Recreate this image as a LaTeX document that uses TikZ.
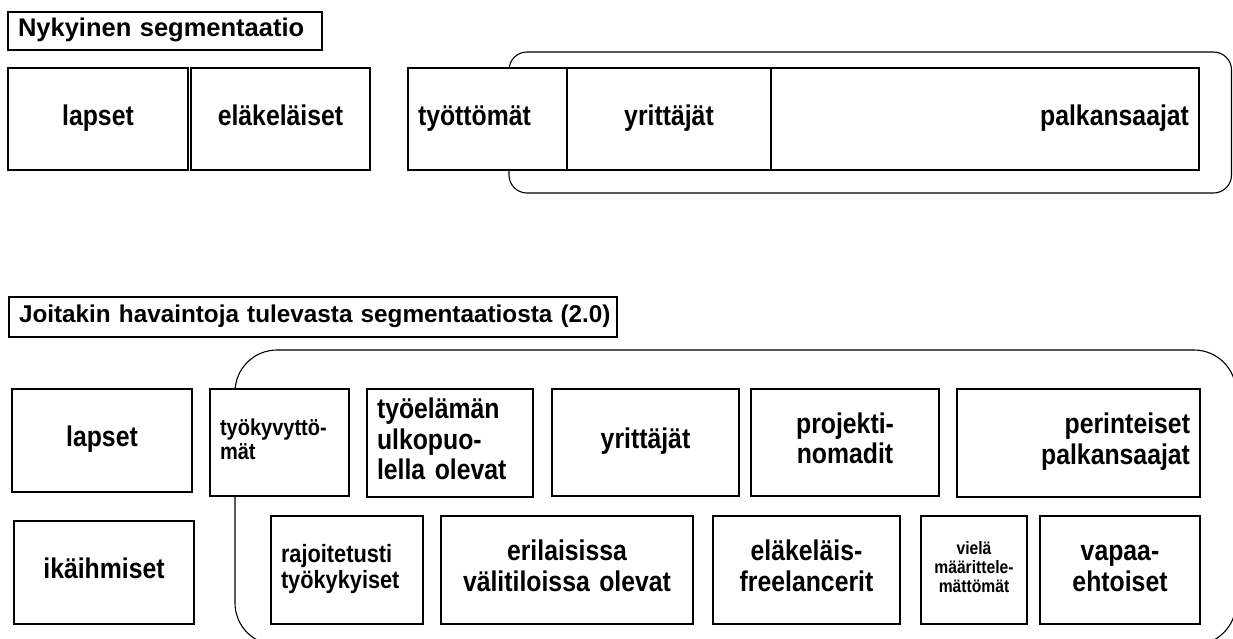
\documentclass[tikz,border=0pt]{standalone}
\usepackage{fontspec}
\setmainfont{Liberation Sans}
\newfontfamily\segfont{Liberation Sans}[FakeStretch=0.87]

\begin{document}
\begin{tikzpicture}[x=1pt,y=-1pt,
    seg/.style={draw, fill=white, line width=1.3pt, inner xsep=10pt, inner ysep=0pt,
      font=\segfont\fontsize{28.5}{30.5}\selectfont\bfseries, align=center,
      execute at begin node=\strut, execute at end node=\strut},
    small/.style={font=\segfont\fontsize{25}{26.5}\selectfont\bfseries},
    smaller/.style={font=\segfont\fontsize{23}{21.5}\selectfont\bfseries},
    tiny/.style={font=\segfont\fontsize{18}{19}\selectfont\bfseries},
    titlebox/.style={seg, align=left, font=\fontsize{#1}{28}\selectfont\bfseries},
    group/.style={draw, line width=1.1pt, rounded corners=#1}]
  \useasboundingbox (0,0) rectangle (1233,638);
  \clip (0,0) rectangle (1233,638);

  % nykyinen segmentaatio
  \node[titlebox=25.5, text width=294pt, minimum height=38pt] (nyk) at (165,31) {Nykyinen segmentaatio};
  \draw[group=18pt] (509,52) rectangle (1231.5,193);
  \node[seg, text width=160pt, minimum height=102pt] (lapset) at (98,119) {lapset};
  \node[seg, text width=159pt, minimum height=102pt] (elakel) at (280.5,119) {eläkeläiset};
  \node[seg, align=left, text width=139pt, minimum height=102pt] (tyott) at (487.5,119) {työttömät};
  \node[seg, text width=184pt, minimum height=102pt] (yritt) at (669,119) {yrittäjät};
  \node[seg, align=right, text width=408pt, minimum height=102pt] (palkan) at (985,119) {palkansaajat};

  % segmentaatio 2.0
  \node[titlebox=24.3, text width=588pt, minimum height=40pt] (tuleva) at (313,317) {\mbox{Joitakin havaintoja tulevasta segmentaatiosta (2.0)}};
  \draw[group=42pt] (235,350) rectangle (1236,645);
  \node[seg, text width=160pt, minimum height=103pt] (lapset2) at (102,440.5) {lapset};
  \node[seg, text width=160pt, minimum height=103pt] (ikaih) at (104,572.5) {ikäihmiset};
  \node[seg, smaller, align=left, text width=119pt, minimum height=107pt] (tyokyv) at (279.5,442.5) {työkyvyttö-\\mät};
  \node[seg, align=left, text width=146pt, minimum height=108pt] (tyoel) at (450,443) {työelämän\\ulkopuo-\\lella olevat};
  \node[seg, text width=167pt, minimum height=107pt] (yritt2) at (645.5,442.5) {yrittäjät};
  \node[seg, text width=168pt, minimum height=107pt] (projekti) at (845,442.5) {projekti-\\nomadit};
  \node[seg, align=right, text width=223pt, minimum height=108pt] (perint) at (1078.5,443) {perinteiset\\palkansaajat};
  \node[seg, small, align=left, text width=132pt, minimum height=108pt] (rajoit) at (347,570) {rajoitetusti\\työkykyiset};
  \node[seg, text width=232pt, minimum height=108pt] (erilais) at (567,570) {erilaisissa\\välitiloissa olevat};
  \node[seg, text width=167pt, minimum height=108pt] (freel) at (806.5,570) {eläkeläis-\\freelancerit};
  \node[seg, tiny, inner xsep=4pt, text width=98pt, minimum height=108pt] (viela) at (974,570) {vielä\\määrittele-\\mättömät};
  \node[seg, text width=140pt, minimum height=108pt] (vapaa) at (1120,570) {vapaa-\\ehtoiset};
\end{tikzpicture}
\end{document}
